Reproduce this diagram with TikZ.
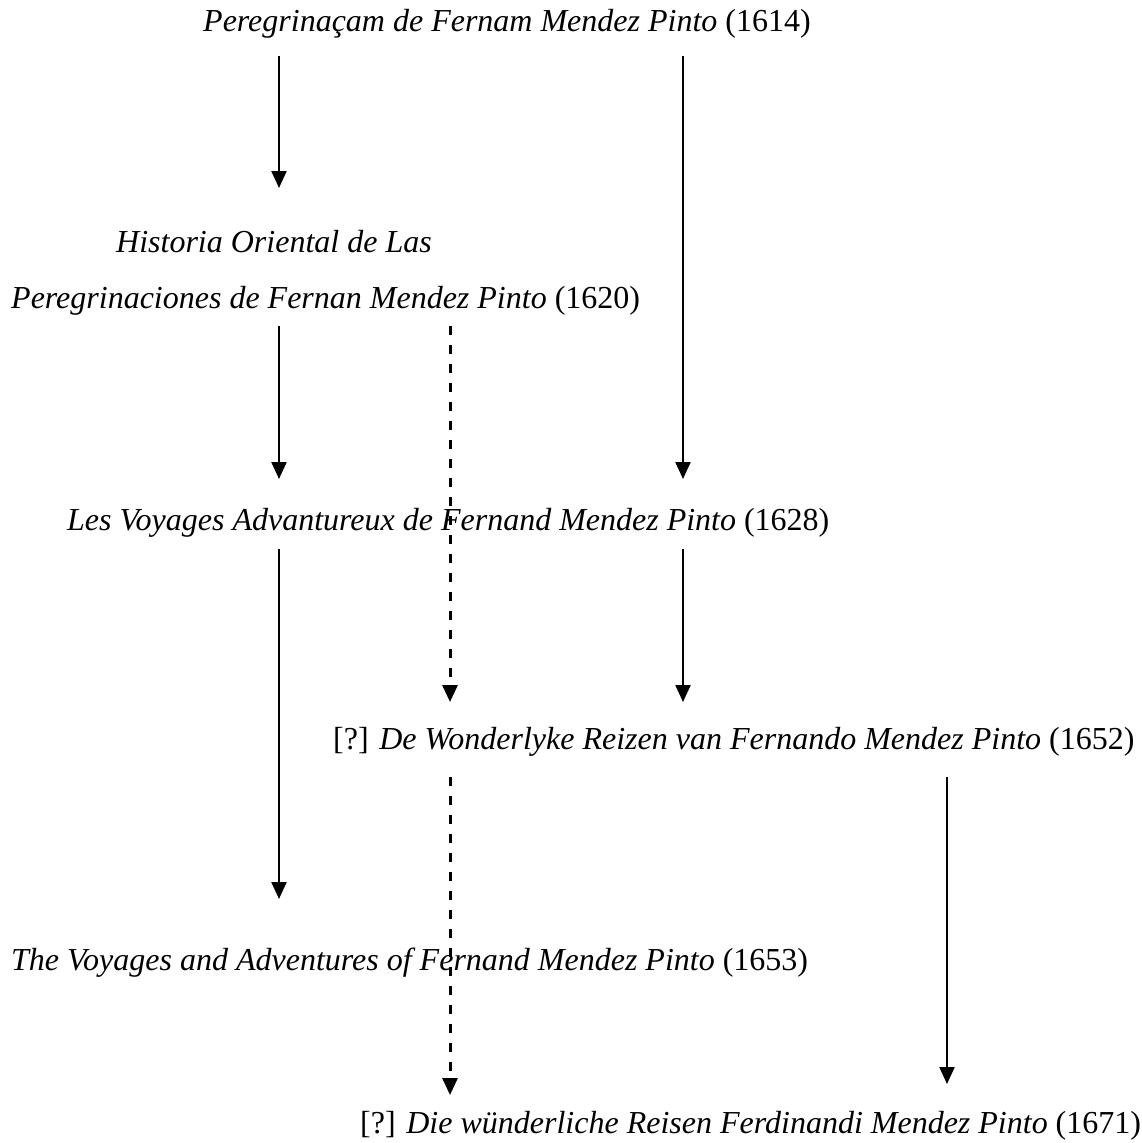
\documentclass[tikz,border=0pt]{standalone}
\usepackage{fontspec}
\setmainfont{Liberation Serif}
\usetikzlibrary{arrows.meta,calc}

\begin{document}
\begin{tikzpicture}[
    x=1pt, y=-1pt,
    % edition titles
    ed/.style={anchor=base west, inner sep=0pt, font=\fontsize{32}{38}\selectfont},
    % connectors
    arr/.style={draw, line width=2.3pt, -{Triangle[width=15pt,length=17pt]}},
    guess/.style={arr, line width=3pt, dash pattern=on 9pt off 10pt},
]
\useasboundingbox (0,0) rectangle (1142,1143);

% =========================================================
% editions
% =========================================================
\node[ed] (pt1614)  at (203, 31)   {\textit{Peregrinaçam de Fernam Mendez Pinto} (1614)};
\node[ed] (es1620a) at (116, 252)  {\textit{Historia Oriental de Las}};
\node[ed] (es1620)  at (11, 308)   {\textit{Peregrinaciones de Fernan Mendez Pinto} (1620)};
\node[ed] (fr1628)  at (67, 530)   {\textit{Les Voyages Advantureux de Fernand Mendez Pinto} (1628)};
\node[ed] (nl1652)  at (333, 749)  {[?] \textit{De Wonderlyke Reizen van Fernando Mendez Pinto} (1652)};
\node[ed] (en1653)  at (11, 970)   {\textit{The Voyages and Adventures of Fernand Mendez Pinto} (1653)};
\node[ed] (de1671)  at (360, 1133) {[?] \textit{Die wünderliche Reisen Ferdinandi Mendez Pinto} (1671)};

% columns of the arrows
\coordinate (colA) at (279, 0);
\coordinate (colB) at (450, 0);
\coordinate (colC) at (683, 0);
\coordinate (colD) at (947, 0);

% =========================================================
% translations
% =========================================================
\draw[arr] ($(pt1614.base -| colA)+(0,25)$) -- ($(es1620a.base -| colA)+(0,-64)$);
\draw[arr] ($(pt1614.base -| colC)+(0,25)$) -- ($(fr1628.base -| colC)+(0,-51)$);

\draw[arr] ($(es1620.base -| colA)+(0,18)$) -- ($(fr1628.base -| colA)+(0,-51)$);
\draw[guess] ($(es1620.base -| colB)+(0,18)$) -- ($(nl1652.base -| colB)+(0,-47)$);

\draw[arr] ($(fr1628.base -| colA)+(0,19)$) -- ($(en1653.base -| colA)+(0,-71)$);
\draw[arr] ($(fr1628.base -| colC)+(0,19)$) -- ($(nl1652.base -| colC)+(0,-47)$);

\draw[guess] ($(nl1652.base -| colB)+(0,28)$) -- ($(de1671.base -| colB)+(0,-38)$);
\draw[arr] ($(nl1652.base -| colD)+(0,28)$) -- ($(de1671.base -| colD)+(0,-49)$);

\end{tikzpicture}
\end{document}
